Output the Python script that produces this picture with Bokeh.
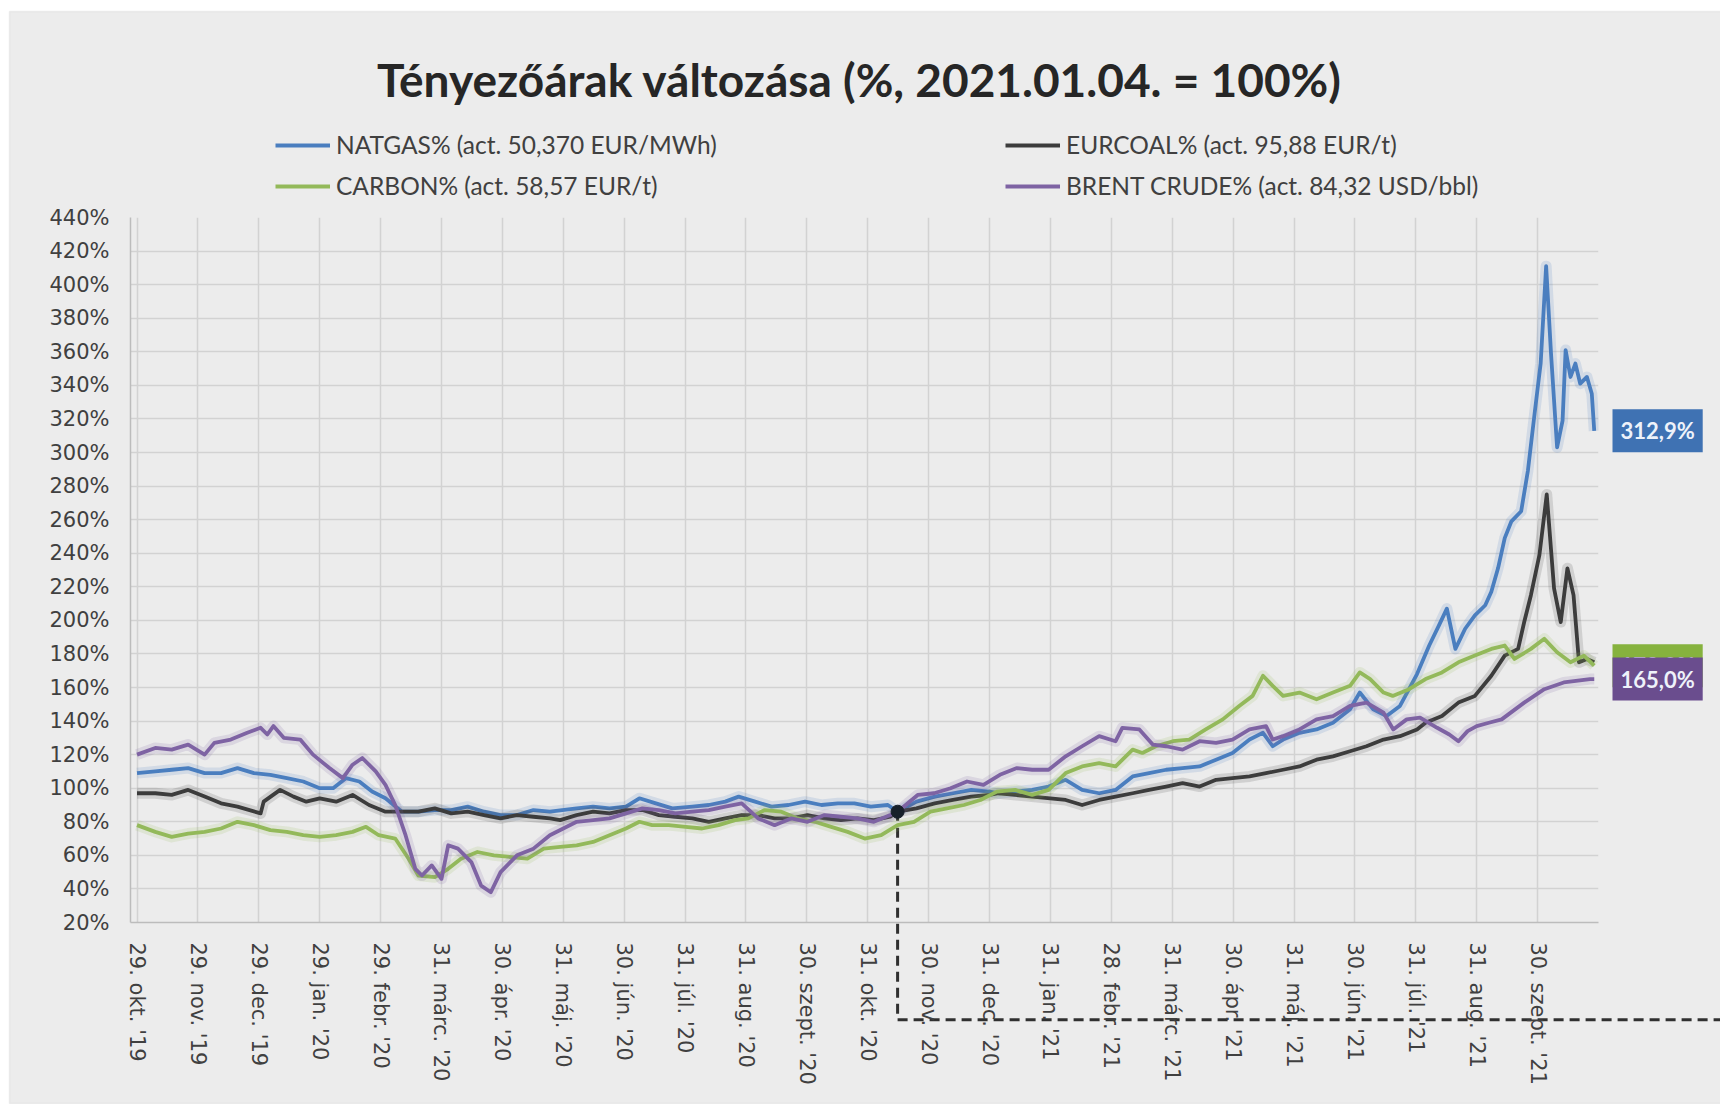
import math
from bokeh.plotting import figure
from bokeh.layouts import column
from bokeh.models import (Range1d, FixedTicker, PrintfTickFormatter, Legend, LegendItem,
                          Label, BoxAnnotation)
from bokeh.embed import file_html
from bokeh.resources import INLINE

# ---------------- data ----------------
month_labels = ["29. okt. '19", "29. nov. '19", "29. dec. '19", "29. jan. '20", "29. febr. '20",
                "31. márc. '20", "30. ápr. '20", "31. máj. '20", "30. jún. '20", "31. júl. '20",
                "31. aug. '20", "30. szept. '20", "31. okt. '20", "30. nov. '20", "31. dec. '20",
                "31. jan. '21", "28. febr. '21", "31. márc. '21", "30. ápr. '21", "31. máj. '21",
                "30. jún. '21", "31. júl. '21", "31. aug. '21", "30. szept. '21"]
y_ticks = list(range(20, 441, 20))

# x = months since 29 Oct 2019
natgas_x = [0.00, 0.30, 0.57, 0.84, 1.11, 1.38, 1.65, 1.92, 2.19, 2.46, 2.73, 3.00, 3.22, 3.43,
            3.65, 3.86, 4.08, 4.35, 4.62, 4.89, 5.16, 5.43, 5.70, 5.97, 6.24, 6.51, 6.78, 7.22,
            7.49, 7.76, 8.03, 8.25, 8.52, 8.79, 9.12, 9.39, 9.66, 9.88, 10.15, 10.42, 10.70,
            10.97, 11.24, 11.51, 11.78, 12.05, 12.33, 12.49, 12.80, 13.10, 13.40, 13.70, 14.00,
            14.15, 14.70, 14.97, 15.25, 15.52, 15.80, 16.07, 16.35, 16.62, 16.90, 17.17, 17.45,
            17.72, 17.99, 18.27, 18.49, 18.65, 18.82, 19.09, 19.37, 19.64, 19.92, 20.08, 20.30,
            20.52, 20.74, 21.02, 21.22, 21.38, 21.51, 21.65, 21.81, 21.97, 22.14, 22.24, 22.35,
            22.46, 22.57, 22.73, 22.84, 22.95, 23.05, 23.14, 23.22, 23.32, 23.41, 23.46, 23.54,
            23.62, 23.70, 23.81, 23.89, 23.93]
natgas_y = [109, 110, 111, 112, 109, 109, 112, 109, 108, 106, 104, 100, 100, 106,
            104, 98, 94, 86, 86, 87, 87, 89, 86, 84, 84, 87, 86, 88,
            89, 88, 89, 94, 91, 88, 89, 90, 92, 95, 92, 89, 90,
            92, 90, 91, 91, 89, 90, 86, 92, 95, 97, 99, 98,
            97, 99, 101, 105, 99, 97, 99, 107, 109, 111, 112, 113,
            117, 121, 129, 133, 125, 129, 133, 135, 139, 147, 157, 147,
            143, 149, 168, 185, 197, 207, 183, 195, 203, 209, 217, 231,
            249, 259, 265, 289, 323, 353, 411, 359, 303, 319, 361, 345,
            353, 341, 345, 335, 312.9]

eurcoal_x = [0.00, 0.30, 0.57, 0.84, 1.11, 1.38, 1.65, 2.03, 2.08, 2.35, 2.57, 2.78, 3.00, 3.27,
             3.54, 3.81, 4.08, 4.35, 4.62, 4.89, 5.16, 5.43, 5.70, 5.97, 6.24, 6.51, 6.78, 6.95,
             7.22, 7.49, 7.76, 8.03, 8.30, 8.57, 8.84, 9.12, 9.39, 9.66, 9.93, 10.20, 10.47,
             10.74, 11.01, 11.29, 11.56, 11.83, 12.10, 12.37, 12.49, 12.80, 13.10, 13.40, 13.70,
             14.00, 14.15, 14.70, 15.25, 15.52, 15.80, 16.07, 16.35, 16.62, 16.90, 17.17, 17.45,
             17.72, 17.99, 18.27, 18.54, 18.82, 19.09, 19.37, 19.64, 19.92, 20.19, 20.47, 20.74,
             21.02, 21.16, 21.43, 21.70, 21.97, 22.24, 22.46, 22.68, 22.78, 22.89, 23.03, 23.15,
             23.27, 23.38, 23.49, 23.59, 23.68, 23.81, 23.93]
eurcoal_y = [97, 97, 96, 99, 95, 91, 89, 85, 92, 99, 95, 92, 94, 92,
             96, 90, 86, 86, 86, 88, 85, 86, 84, 82, 84, 83, 82, 81,
             84, 86, 85, 87, 87, 84, 83, 82, 80, 82, 84, 84, 82,
             82, 84, 82, 81, 82, 81, 83, 86, 88, 91, 93, 95,
             96, 97, 95, 93, 90, 93, 95, 97, 99, 101, 103, 101,
             105, 106, 107, 109, 111, 113, 117, 119, 122, 125, 129, 131,
             135, 139, 143, 151, 155, 167, 179, 183, 199, 215, 239, 275,
             219, 199, 231, 215, 175, 177, 175]

carbon_x = [0.00, 0.30, 0.57, 0.84, 1.11, 1.38, 1.65, 1.92, 2.19, 2.46, 2.73, 3.00, 3.27, 3.54,
            3.76, 3.97, 4.24, 4.46, 4.62, 4.89, 5.11, 5.32, 5.59, 5.86, 6.14, 6.41, 6.68, 6.95,
            7.22, 7.49, 7.76, 8.03, 8.25, 8.46, 8.73, 9.01, 9.28, 9.55, 9.82, 10.04, 10.31,
            10.58, 10.85, 11.13, 11.40, 11.67, 11.95, 12.22, 12.49, 12.76, 13.03, 13.30, 13.58,
            13.85, 14.12, 14.42, 14.70, 14.97, 15.25, 15.52, 15.80, 16.07, 16.35, 16.51, 16.73,
            17.01, 17.28, 17.55, 17.83, 18.10, 18.32, 18.49, 18.65, 18.82, 19.09, 19.37, 19.64,
            19.92, 20.08, 20.25, 20.47, 20.62, 20.89, 21.16, 21.43, 21.70, 21.97, 22.24, 22.46,
            22.62, 22.89, 23.11, 23.32, 23.54, 23.76, 23.93]
carbon_y = [78, 74, 71, 73, 74, 76, 80, 78, 75, 74, 72, 71, 72, 74,
            77, 72, 70, 58, 48, 47, 52, 58, 62, 60, 59, 58, 64, 65,
            66, 68, 72, 76, 80, 78, 78, 77, 76, 78, 81, 82, 87,
            86, 82, 80, 77, 74, 70, 72, 78, 80, 86, 88, 90,
            93, 98, 99, 96, 99, 109, 113, 115, 113, 123, 121, 125,
            128, 129, 135, 141, 149, 155, 167, 161, 155, 157, 153, 157,
            161, 169, 165, 157, 155, 159, 165, 169, 175, 179, 183, 185,
            177, 183, 189, 181, 175, 179, 173]

brent_x = [0.00, 0.30, 0.57, 0.84, 1.11, 1.27, 1.54, 1.81, 2.03, 2.14, 2.24, 2.41, 2.68, 2.89,
           3.16, 3.38, 3.54, 3.70, 3.92, 4.08, 4.24, 4.41, 4.57, 4.68, 4.84, 5.00, 5.11, 5.27,
           5.49, 5.65, 5.81, 5.97, 6.24, 6.51, 6.78, 7.00, 7.22, 7.49, 7.76, 8.03, 8.30, 8.57,
           8.84, 9.12, 9.39, 9.66, 9.93, 10.20, 10.47, 10.74, 11.01, 11.29, 11.56, 11.83, 12.10,
           12.37, 12.49, 12.82, 13.09, 13.36, 13.63, 13.90, 14.17, 14.45, 14.70, 14.97, 15.25,
           15.52, 15.80, 16.07, 16.18, 16.46, 16.68, 16.90, 17.17, 17.45, 17.72, 17.99, 18.27,
           18.54, 18.65, 18.82, 19.09, 19.37, 19.64, 19.92, 20.19, 20.47, 20.63, 20.85, 21.07,
           21.35, 21.55, 21.70, 21.85, 22.00, 22.20, 22.41, 22.78, 23.11, 23.43, 23.86, 23.93]
brent_y = [120, 124, 123, 126, 120, 127, 129, 133, 136, 132, 137, 130, 129, 120,
           112, 106, 114, 118, 110, 102, 90, 72, 52, 48, 54, 46, 66, 64,
           56, 42, 38, 50, 60, 64, 72, 76, 80, 81, 82, 85, 88, 87,
           85, 86, 87, 89, 91, 82, 78, 82, 80, 84, 83, 82, 80,
           84, 86, 96, 97, 100, 104, 102, 108, 112, 111, 111, 119,
           125, 131, 128, 136, 135, 126, 125, 123, 128, 127, 129, 135,
           137, 129, 131, 135, 141, 143, 149, 151, 145, 135, 141, 142,
           136, 132, 128, 134, 137, 139, 141, 151, 159, 163, 165, 165.0]

natgas_label = "NATGAS% (act. 50,370 EUR/MWh)"
eurcoal_label = "EURCOAL% (act. 95,88 EUR/t)"
carbon_label = "CARBON% (act. 58,57 EUR/t)"
brent_label = "BRENT CRUDE% (act. 84,32 USD/bbl)"
title_text = "Tényezőárak változása (%, 2021.01.04. = 100%)"
marker_x, marker_y = 12.49, 86      # highlighted point
guide_y = -38                       # level of the horizontal dashed guide

# ---------------- geometry / styling ----------------
C_GAS, C_COAL, C_CARBON, C_BRENT = "#4a7ebf", "#3c3c3c", "#93b95a", "#7e63a3"
BG = "#ececec"
W, H = 1720, 1104
FL, FT, FR, FB = 130, 217, 1598, 922          # main frame edges (px)
X0, X1, Y0, Y1 = -0.107, 24.0, 20, 440
PXX = (FR - FL) / (X1 - X0)
PXY = (FB - FT) / (Y1 - Y0)


def ux(px):
    return X0 + (px - FL) / PXX


def uy(py):
    return Y1 - (py - FT) / PXY


# ---- underlay: chart area, title, legends, value labels, guide ----
u = figure(width=W, height=H, output_backend="svg", toolbar_location=None,
           x_range=Range1d(ux(0), ux(W)), y_range=Range1d(uy(H), uy(0)),
           x_axis_type=None, y_axis_type=None, min_border=0, title_location=None)
u.frame_align = False
u.grid.visible = False
u.background_fill_color = "white"
u.border_fill_color = "white"
u.outline_line_color = None
u.add_layout(BoxAnnotation(left=ux(9), right=ux(W + 20), bottom=uy(1103), top=uy(11),
                           fill_color=BG, fill_alpha=1, line_color="#cfcfcf", line_width=1.5,
                           level="underlay"))

u.add_layout(Label(x=ux(859), y=uy(79), text=title_text, text_align="center",
                   text_baseline="middle", text_font="Lato", text_font_style="bold",
                   text_font_size="46px", text_color="#262626"))

dummy = {}
for name, col in (("gas", C_GAS), ("coal", C_COAL), ("carbon", C_CARBON), ("brent", C_BRENT)):
    dummy[name] = u.line(x=[ux(-60), ux(-50)], y=[uy(-60), uy(-60)],
                         line_color=col, line_width=4)


def make_legend(items, loc):
    lg = Legend(items=items, location=loc, orientation="vertical")
    lg.background_fill_alpha = 0
    lg.border_line_color = None
    lg.padding = 0
    lg.margin = 0
    lg.spacing = 12
    lg.glyph_width = 55
    lg.glyph_height = 26
    lg.label_height = 26
    lg.label_standoff = 6
    lg.label_text_font = "Lato"
    lg.label_text_font_size = "24.5px"
    lg.label_text_color = "#404040"
    return lg


u.add_layout(make_legend([LegendItem(label=natgas_label, renderers=[dummy["gas"]]),
                          LegendItem(label=carbon_label, renderers=[dummy["carbon"]])],
                         (275, H - 200)))
u.add_layout(make_legend([LegendItem(label=eurcoal_label, renderers=[dummy["coal"]]),
                          LegendItem(label=brent_label, renderers=[dummy["brent"]])],
                         (1005, H - 200)))

u.line([marker_x, marker_x], [marker_y, guide_y], line_color="#303030", line_width=3,
       line_dash="10 6")
u.line([marker_x, ux(W + 20)], [guide_y, guide_y], line_color="#303030", line_width=3,
       line_dash="10 6")


def end_label(val, fill):
    return Label(x=ux(1612), y=val, text=f"{val:.1f}".replace(".", ",") + "%",
                 text_align="left", text_baseline="middle", text_font="Lato",
                 text_font_style="bold", text_font_size="22px", text_color="#eef2fa",
                 background_fill_color=fill, padding=8)


u.add_layout(end_label(natgas_y[-1], "#3f72b3"))
u.add_layout(end_label(carbon_y[-1], "#86b23e"))
u.add_layout(end_label(brent_y[-1], "#6a4d8e"))

# ---- main chart (transparent, on top) ----
p = figure(width=W, height=H, output_backend="svg", toolbar_location=None,
           x_range=Range1d(X0, X1), y_range=Range1d(Y0, Y1), title_location=None,
           min_border_left=FL, min_border_right=W - FR, min_border_top=FT,
           min_border_bottom=H - FB)
p.frame_align = False
p.background_fill_alpha = 0
p.border_fill_alpha = 0
p.outline_line_color = None
p.margin = (-H, 0, 0, 0)

p.xgrid.ticker = FixedTicker(ticks=list(range(len(month_labels))))
p.ygrid.ticker = FixedTicker(ticks=y_ticks)
for g in (p.xgrid, p.ygrid):
    g.grid_line_color = "#d2d2d2"
    g.grid_line_width = 1.5

xa = p.xaxis[0]
xa.ticker = FixedTicker(ticks=list(range(len(month_labels))))
xa.major_label_overrides = {i: lab for i, lab in enumerate(month_labels)}
xa.major_label_orientation = -math.pi / 2
ya = p.yaxis[0]
ya.ticker = FixedTicker(ticks=y_ticks)
ya.formatter = PrintfTickFormatter(format="%d%%")
for ax in (xa, ya):
    ax.major_tick_line_color = None
    ax.minor_tick_line_color = None
    ax.axis_line_color = "#bcbcbc"
    ax.axis_line_width = 1.5
    ax.major_label_text_font = "DejaVu Sans"
    ax.major_label_text_font_size = "21px"
    ax.major_label_text_color = "#404040"
xa.major_label_standoff = 14
ya.major_label_standoff = 15

for xs, ys, col in ((natgas_x, natgas_y, C_GAS), (eurcoal_x, eurcoal_y, C_COAL),
                    (carbon_x, carbon_y, C_CARBON), (brent_x, brent_y, C_BRENT)):
    p.line(xs, ys, line_color=col, line_width=11, line_alpha=0.16, line_join="round")
    p.line(xs, ys, line_color=col, line_width=3.8, line_join="round")

p.scatter([marker_x], [marker_y], size=13, color="#17202a")

layout = column(u, p)
open("out.html", "w").write(file_html(layout, INLINE))
